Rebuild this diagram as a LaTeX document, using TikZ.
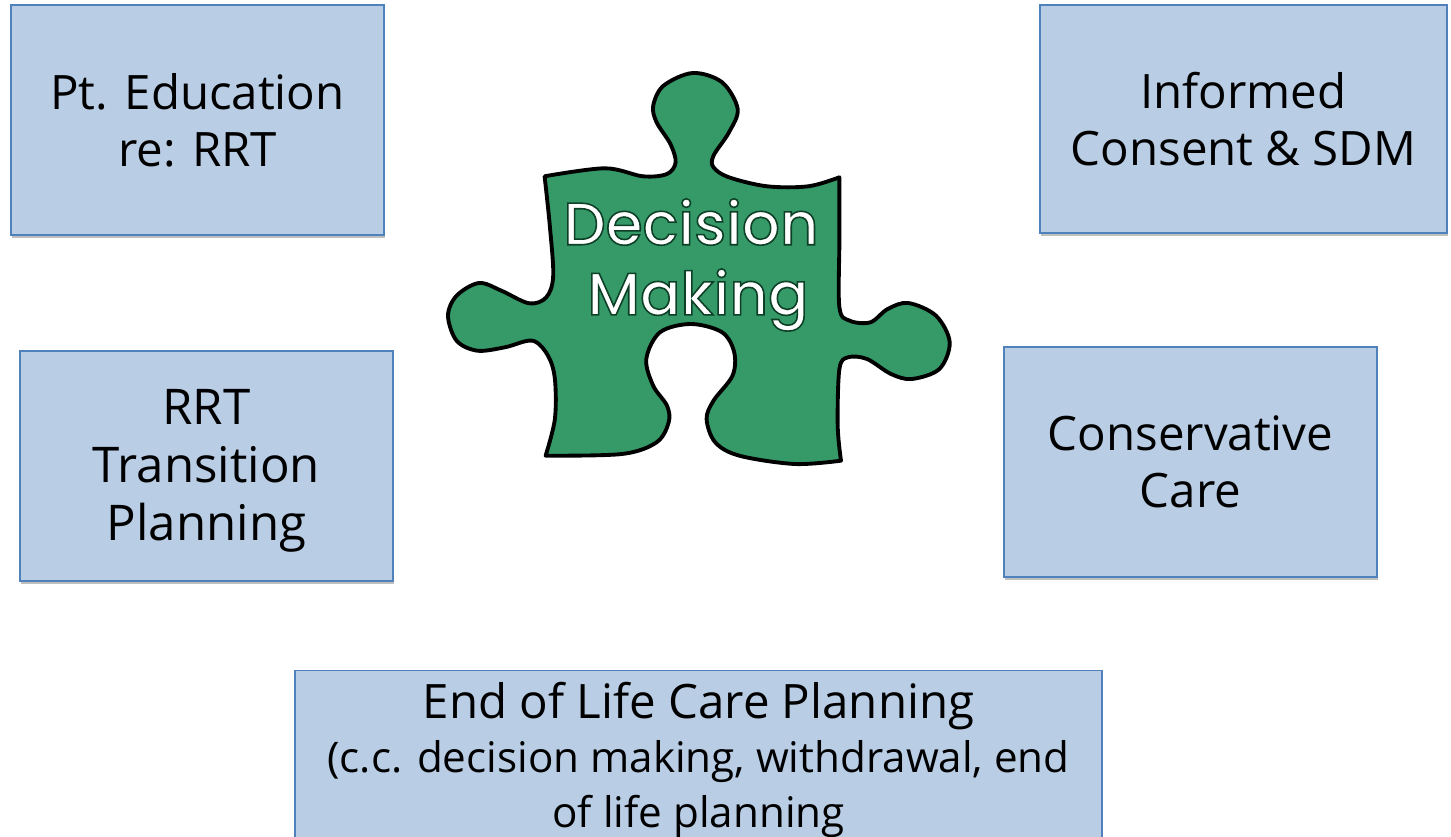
\documentclass[tikz,border=0pt]{standalone}
\usepackage{fontspec}
\setmainfont{Open Sans}
\newfontfamily\piecefont[UprightFont=* Medium]{Poppins}
\usepackage{xcolor}
\usetikzlibrary{shadows}
\definecolor{boxfill}{HTML}{B9CDE5}
\definecolor{boxedge}{HTML}{4F81BD}
\definecolor{piecegreen}{HTML}{359A68}
\newcommand{\outlined}[1]{\special{pdf:code q 2 Tr 0.9 w 0.05 0.25 0.15 RG 1 g}#1\special{pdf:code Q}}
\tikzset{
  topic/.style={draw=boxedge, line width=0.7pt, fill=boxfill, align=center, text=black,
    inner sep=0pt, font=\fontsize{27}{32.5}\selectfont,
    drop shadow={shadow xshift=0.4pt, shadow yshift=-2pt, fill=black, opacity=0.25}},
  piecetext/.style={text=white, inner sep=0pt, font=\piecefont\fontsize{34}{40}\selectfont}
}
\begin{document}
\begin{tikzpicture}[x=0.02cm,y=-0.02cm]
  \useasboundingbox (0,0) rectangle (1451,837);

  \node[topic, minimum width=7.46cm, minimum height=4.6cm] (education) at (197.5,120) {Pt. Education\\re: RRT};
  \node[topic, minimum width=8.14cm, minimum height=4.56cm] (consent) at (1243.5,119) {Informed\\Consent \& SDM};
  \node[topic, minimum width=7.46cm, minimum height=4.6cm, font=\fontsize{28}{33}\selectfont] (transition) at (206.5,466) {\rule{0pt}{26pt}RRT\\Transition\\Planning};
  \node[topic, minimum width=7.46cm, minimum height=4.6cm] (conservative) at (1190.5,462) {Conservative\\Care};
  \node[topic, minimum width=16.14cm, minimum height=3.3cm, font=\fontsize{24}{31}\selectfont] (endoflife) at (698.5,754)
    {\rule{0pt}{27pt}{\fontsize{27}{31}\selectfont End of Life Care Planning}\\(c.c. decision making, withdrawal, end\\of life planning};

  % puzzle piece
  \draw[fill=piecegreen, line width=2.2pt, line join=round]
    plot[smooth, tension=0.55] coordinates {(544.6,176.3) (604.9,168.3) (642.8,176.3) (667,174) (675.6,162.3)
      (670.4,144) (656.6,122.3) (653.2,105.7) (663.5,85.7) (692.8,73) (722.1,82.3) (737.7,109) (729,132.3)
      (713.5,155.7) (713.5,167.3) (729,177.3) (767,186.3) (808.3,186.3) (839.4,177.3)}
    -- plot[smooth, tension=0.55] coordinates {(839.4,177.3) (839.4,240) (839.4,307.3) (849.7,320.7) (870.4,322.3) (887.7,309)
      (908.3,303) (936,315.7) (949.7,342.3) (939.4,369) (911.8,379) (891,374) (867,359) (848,357.3)
      (839.4,369) (837.7,425.7) (841,460.7)}
    -- plot[smooth, tension=0.55] coordinates {(841,460.7) (794.6,464) (739.4,455.7) (715.2,442.3) (706.6,419)
      (713.5,400.7) (732.5,375.7) (734.2,352.3) (722.1,332.3) (691,324) (660,332.3) (646.3,359) (653.2,385.7)
      (667,405.7) (668.7,422.3) (656.6,442.3) (622,454) (545.6,455.7)}
    -- plot[smooth, tension=0.55] coordinates {(545.6,455.7) (554.9,419) (554.9,379) (548,355.7) (532.5,340.7)
      (504.9,347.3) (477.3,350.7) (456.6,340.7) (448,315.7) (456.6,295.7) (479,283) (501.4,290.7) (529,303.3)
      (546.3,297.3) (553.2,275.7) (549.8,225.7) (544.6,176.3)} -- cycle;

  \node[piecetext] (decision) at (691,222) {\outlined{Decision}};
  \node[piecetext] (making) at (698,300) {\outlined{Making}};
\end{tikzpicture}
\end{document}
